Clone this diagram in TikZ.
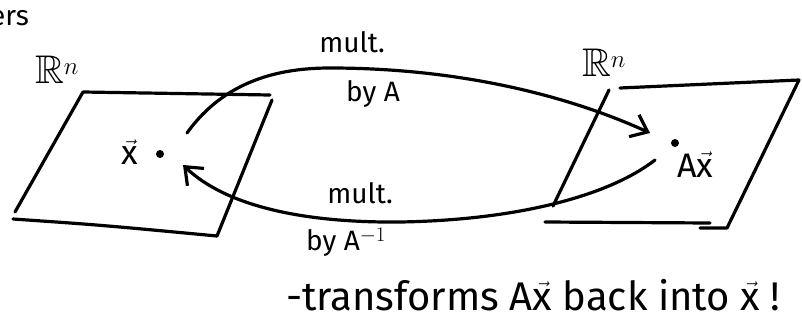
\documentclass[tikz,border=0pt]{standalone}
\usepackage{amssymb}
\usepackage{fontspec}
\setmainfont{Fira Sans}
\setsansfont{Fira Sans}
\usetikzlibrary{arrows.meta}
\begin{document}
\begin{tikzpicture}[x=1pt,y=-1pt,
  ink/.style={line width=3.2pt,line cap=round,line join=round,black},
  hand/.style={font=\fontsize{28}{30}\selectfont,inner sep=0pt},
  mid/.style={font=\fontsize{34}{36}\selectfont,inner sep=0pt},
  big/.style={font=\fontsize{40}{42}\selectfont,inner sep=0pt},
  tipA/.style={-{Straight Barb[length=15pt,width=24pt,line width=3.2pt]}},
  dotst/.style={circle,fill=black,inner sep=0pt,minimum size=8pt}]
\useasboundingbox (0,0) rectangle (802,332);
% left plane
\coordinate (L1) at (83,92);
\coordinate (L2) at (270,95);
\coordinate (L3) at (272,100);
\coordinate (L4) at (217,236);
\coordinate (L5) at (13,219);
\coordinate (L6) at (15,212);
\draw[ink] (L2) -- (L1) -- (L6);
\draw[ink] (L5) .. controls (100,225) .. (L4);
\draw[ink] (L3) -- (L4);
% right plane
\coordinate (R1) at (620,88);
\coordinate (R2) at (799,80);
\coordinate (R3) at (727,228);
\coordinate (R4) at (700,228);
\coordinate (R5) at (710,223);
\coordinate (R6) at (545,222);
\coordinate (R7) at (609,90);
\coordinate (R8) at (553,206);
\draw[ink] (R1) -- (R2) -- (R3) -- (R4);
\draw[ink] (R6) -- (R5);
\draw[ink] (R7) -- (R8);
% labels
\node[big] (rn1) at (57,70) {$\mathbb{R}^{n}$};
\node[big] (rn2) at (604,63) {$\mathbb{R}^{n}$};
\node[dotst] (x) at (160,154) {};
\node[dotst] (ax) at (675,143) {};
\node[mid,anchor=east] (xlab) at (138,152) {$\vec{\mathrm{x}}$};
\node[mid,anchor=north west] (axlab) at (677,152) {A$\vec{\mathrm{x}}$};
% arcs
\coordinate (u0) at (187,133);
\coordinate (u1) at (650,133);
\coordinate (d0) at (655,160);
\coordinate (d1) at (183,165);
\draw[ink,tipA] (u0) .. controls (225,80) and (280,68) .. (330,68)
  .. controls (450,68) and (560,92) .. (u1);
\draw[ink,tipA] (d0) .. controls (610,195) and (520,220) .. (400,222)
  .. controls (300,223) and (225,205) .. (d1);
% arc labels
\node[hand] (m1) at (352,42) {mult.};
\node[hand] (b1) at (373,94) {by A};
\node[hand] (m2) at (360,193) {mult.};
\node[hand] (b2) at (346,242) {by A$^{-1}$};
\node[big,anchor=west] (note) at (286,295) {-transforms A$\vec{\mathrm{x}}$ back into $\vec{\mathrm{x}}$ !};
\node[hand,anchor=west] (frag) at (-10,18) {ers};
\end{tikzpicture}
\end{document}
